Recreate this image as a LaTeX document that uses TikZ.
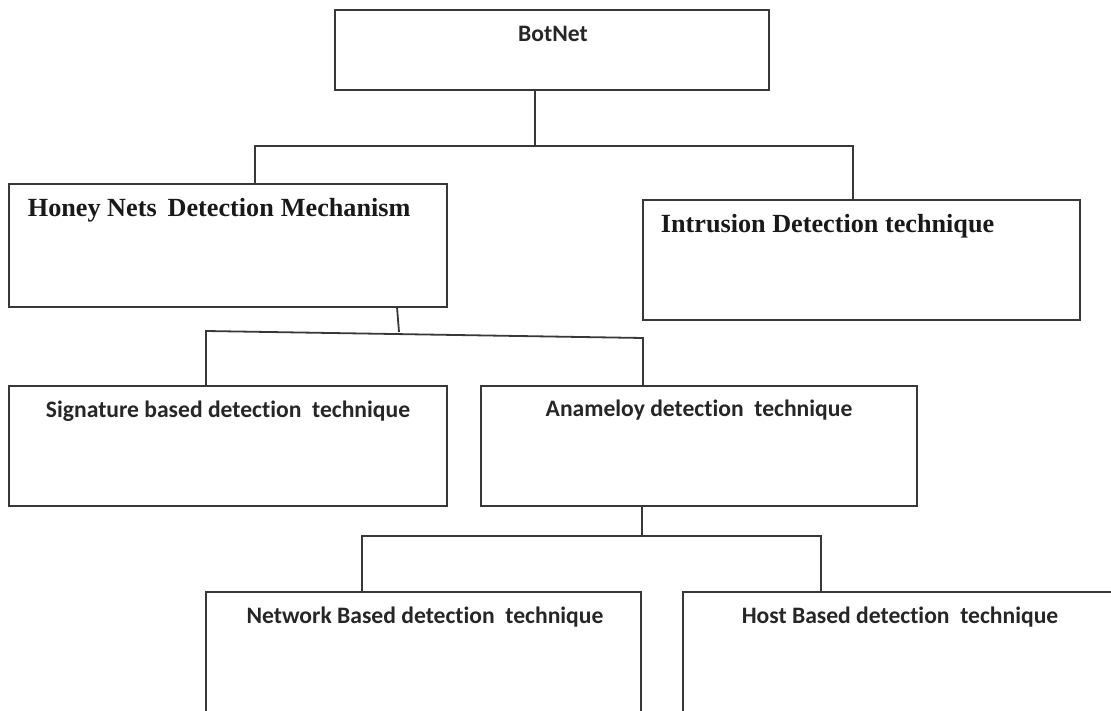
\documentclass[tikz,border=0pt]{standalone}
\usepackage{fontspec}
\setmainfont{Liberation Serif}
\newfontfamily\calfont[RawFeature={-liga;-clig;-calt;-dlig}]{Carlito}
\usetikzlibrary{calc}

\begin{document}
\begin{tikzpicture}[x=1pt,y=-1pt,line width=1.8pt,
    box/.style={draw=black!78,rectangle,inner sep=0pt,outer sep=0pt},
    cal/.style={font=\calfont\bfseries\fontsize{23.6}{28}\selectfont,text=black!85,inner sep=0pt,anchor=base},
    tnr/.style={font=\bfseries\fontsize{26.2}{30}\selectfont,text=black!90,inner sep=0pt,anchor=base west},
    link/.style={draw=black!78,line width=1.8pt}]
    \path[use as bounding box] (0,0) rectangle (1111,711);
    \clip (0,0) rectangle (1111,711);
    \node[box,minimum width=434pt,minimum height=80pt] (botnet) at (552,50) {};
    \node[box,minimum width=438pt,minimum height=123pt] (honey) at (228,245.5) {};
    \node[box,minimum width=437pt,minimum height=120pt] (intrusion) at (861.5,260) {};
    \node[box,minimum width=438pt,minimum height=120pt] (signature) at (228,446) {};
    \node[box,minimum width=436pt,minimum height=120pt] (anomaly) at (699,446) {};
    \node[box,minimum width=435pt,minimum height=150pt] (network) at (423.5,667) {};
    \node[box,minimum width=450pt,minimum height=150pt] (host) at (908,667) {};
    \node[cal] (botnet-t) at (553,42) {BotNet};
    \node[tnr] (honey-t) at (27,217) {Honey Nets\hspace{11pt}Detection\hspace{7pt}Mechanism};
    \node[tnr] (intrusion-t) at (660,233) {Intrusion Detection technique};
    \node[cal] (signature-t) at (228,417) {Signature based detection\ \ technique};
    \node[cal] (anomaly-t) at (699,416) {Anameloy detection\ \ technique};
    \node[cal] (network-t) at (425,623) {Network Based detection\ \ technique};
    \node[cal] (host-t) at (900,623) {Host Based detection\ \ technique};
    \coordinate (top-c) at (535,146);
    \coordinate (top-l) at (255,146);
    \coordinate (top-r) at (853,146);
    \coordinate (mid-c) at (399,332);
    \coordinate (mid-l) at (206,331);
    \coordinate (mid-r) at (643,338);
    \coordinate (low-c) at (642,536);
    \coordinate (low-l) at (362,536);
    \coordinate (low-r) at (821,536);
    \draw[link] (botnet.south -| top-c) -- (top-c);
    \draw[link] (honey.north -| top-l) -- (top-l) -- (top-r) -- (intrusion.north -| top-r);
    \draw[link] ([xshift=388pt]honey.south west) -- (mid-c);
    \draw[link] (signature.north -| mid-l) -- (mid-l) -- (mid-r) -- (anomaly.north -| mid-r);
    \draw[link] (anomaly.south -| low-c) -- (low-c);
    \draw[link] (network.north -| low-l) -- (low-l) -- (low-r) -- (host.north -| low-r);
\end{tikzpicture}
\end{document}
